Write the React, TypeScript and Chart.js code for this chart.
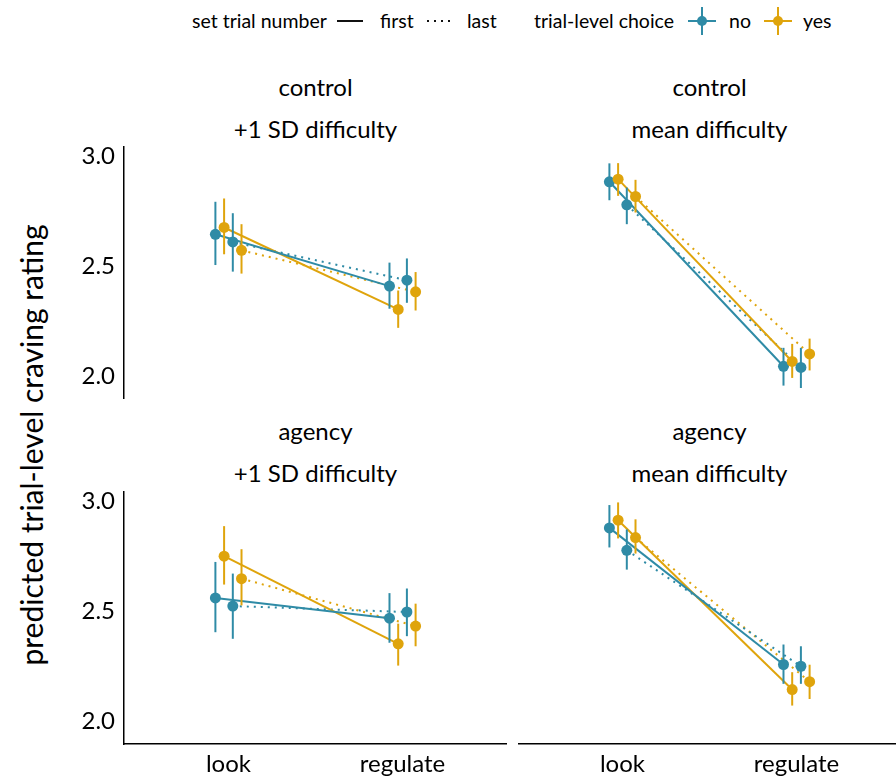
import React, { useEffect, useRef } from "react";
import { Chart, registerables } from "chart.js";

Chart.register(...registerables);

// ---------- data ----------
const xCategories = ["look", "regulate"];
const xPositions = [1, 2];
const yTicks = [2.0, 2.5, 3.0];
const seriesNames = ["no / first", "yes / first", "no / last", "yes / last"];
const seriesChoice = ["no", "yes", "no", "yes"];
const seriesTrial = ["first", "first", "last", "last"];
const dodgeOffsets = [-0.075, -0.025, 0.025, 0.075];

const rowLabels = ["control", "agency"];
const colLabels = ["+1 SD difficulty", "mean difficulty"];

// control, +1 SD difficulty  (rows: no-first, yes-first, no-last, yes-last; cols: look, regulate)
const controlSdEst = [[2.647, 2.411], [2.678, 2.305], [2.612, 2.438], [2.574, 2.385]];
const controlSdLo = [[2.507, 2.308], [2.556, 2.221], [2.477, 2.335], [2.468, 2.3]];
const controlSdHi = [[2.795, 2.518], [2.81, 2.391], [2.743, 2.537], [2.693, 2.475]];

// control, mean difficulty
const controlMeanEst = [[2.886, 2.046], [2.898, 2.068], [2.781, 2.041], [2.819, 2.102]];
const controlMeanLo = [[2.802, 1.958], [2.822, 1.993], [2.693, 1.947], [2.746, 2.027]];
const controlMeanHi = [[2.97, 2.13], [2.971, 2.148], [2.86, 2.13], [2.895, 2.172]];

// agency, +1 SD difficulty
const agencySdEst = [[2.562, 2.47], [2.752, 2.353], [2.525, 2.498], [2.65, 2.434]];
const agencySdLo = [[2.406, 2.358], [2.623, 2.254], [2.376, 2.388], [2.528, 2.342]];
const agencySdHi = [[2.726, 2.584], [2.889, 2.445], [2.673, 2.605], [2.784, 2.536]];

// agency, mean difficulty
const agencyMeanEst = [[2.881, 2.259], [2.916, 2.145], [2.779, 2.251], [2.837, 2.181]];
const agencyMeanLo = [[2.792, 2.171], [2.833, 2.072], [2.691, 2.171], [2.764, 2.102]];
const agencyMeanHi = [[2.985, 2.35], [2.997, 2.224], [2.874, 2.342], [2.92, 2.258]];

// ---------- styles ----------
const BLUE = "#2F8BA6";
const GOLD = "#DFA40C";
const colorFor = (choice: string) => (choice === "no" ? BLUE : GOLD);
const FONT = "Lato, 'Noto Sans', sans-serif";
const TEXT = "#000";

const PANEL_W = 383;
const PANEL_H = 253;
const Y_AXIS_W = 70;
const X_AXIS_H = 34;
const Y_MIN = 1.897;
const Y_MAX = 3.049;

const errorBarPlugin = {
  id: "errorBars",
  beforeDatasetDraw(chart: any, args: any) {
    const ds = chart.data.datasets[args.index];
    if (!ds.errLo) return;
    const xs = chart.scales.x;
    const ys = chart.scales.y;
    const ctx = chart.ctx;
    ctx.save();
    ctx.strokeStyle = ds.backgroundColor;
    ctx.lineWidth = 2;
    ds.data.forEach((p: any, j: number) => {
      const px = xs.getPixelForValue(p.x);
      ctx.beginPath();
      ctx.moveTo(px, ys.getPixelForValue(ds.errLo[j]));
      ctx.lineTo(px, ys.getPixelForValue(ds.errHi[j]));
      ctx.stroke();
    });
    ctx.restore();
  },
};

type PanelProps = {
  left: number;
  top: number;
  showY: boolean;
  showX: boolean;
  est: number[][];
  lo: number[][];
  hi: number[][];
};

function Panel({ left, top, showY, showX, est, lo, hi }: PanelProps) {
  const ref = useRef<HTMLCanvasElement | null>(null);
  const w = PANEL_W + (showY ? Y_AXIS_W : 0);
  const h = PANEL_H + (showX ? X_AXIS_H : 0);

  useEffect(() => {
    if (!ref.current) return;
    const datasets: any[] = [];
    seriesNames.forEach((name, i) => {
      const pts = xPositions.map((x, j) => ({ x: x + dodgeOffsets[i], y: est[i][j] }));
      datasets.push({
        type: "line",
        label: name + " line",
        data: pts,
        borderColor: colorFor(seriesChoice[i]),
        borderWidth: 2,
        borderDash: seriesTrial[i] === "last" ? [2, 5] : [],
        pointRadius: 0,
        fill: false,
        tension: 0,
        order: 20 + i,
      });
    });
    seriesNames.forEach((name, i) => {
      const pts = xPositions.map((x, j) => ({ x: x + dodgeOffsets[i], y: est[i][j] }));
      datasets.push({
        type: "scatter",
        label: name,
        data: pts,
        backgroundColor: colorFor(seriesChoice[i]),
        borderColor: colorFor(seriesChoice[i]),
        borderWidth: 0,
        pointRadius: 5.5,
        errLo: lo[i],
        errHi: hi[i],
        order: 10 - i,
      });
    });

    const zeroPad = (s: any) => {
      s.paddingTop = 0;
      s.paddingBottom = 0;
      s.paddingLeft = 0;
      s.paddingRight = 0;
    };

    const chart = new Chart(ref.current, {
      type: "scatter",
      data: { datasets },
      options: {
        responsive: false,
        animation: false,
        clip: false as any,
        layout: { padding: 0, autoPadding: false },
        plugins: { legend: { display: false }, tooltip: { enabled: false } },
        scales: {
          x: {
            type: "linear",
            min: 0.4,
            max: 2.6,
            display: showX,
            afterBuildTicks: (s: any) => {
              s.ticks = xPositions.map((v) => ({ value: v }));
            },
            afterFit: (s: any) => {
              s.height = showX ? X_AXIS_H : 0;
              zeroPad(s);
            },
            ticks: {
              callback: (v: any) => xCategories[xPositions.indexOf(Number(v))],
              font: { family: FONT, size: 24 },
              color: TEXT,
              padding: 6,
              maxRotation: 0,
              autoSkip: false,
            },
            grid: { display: false, drawTicks: false },
            border: { display: true, color: "#000", width: 1.5 },
          },
          y: {
            type: "linear",
            min: Y_MIN,
            max: Y_MAX,
            display: showY,
            afterBuildTicks: (s: any) => {
              s.ticks = yTicks.map((v) => ({ value: v }));
            },
            afterFit: (s: any) => {
              s.width = showY ? Y_AXIS_W : 0;
              zeroPad(s);
            },
            ticks: {
              callback: (v: any) => Number(v).toFixed(1),
              font: { family: FONT, size: 24 },
              color: TEXT,
              padding: 9,
              autoSkip: false,
            },
            grid: { display: false, drawTicks: false },
            border: { display: true, color: "#000", width: 1.5 },
          },
        },
      } as any,
      plugins: [errorBarPlugin],
    });
    return () => chart.destroy();
  }, []);

  return (
    <canvas
      ref={ref}
      width={w}
      height={h}
      style={{ position: "absolute", left: left - (showY ? Y_AXIS_W : 0), top, width: w, height: h }}
    />
  );
}

const txt = (extra: any): any => ({
  position: "absolute",
  fontFamily: FONT,
  color: TEXT,
  whiteSpace: "nowrap",
  lineHeight: 1,
  ...extra,
});

function Strip({ cx, top, line1, line2 }: { cx: number; top: number; line1: string; line2: string }) {
  return (
    <>
      <div style={txt({ left: cx, top: top, fontSize: 24, transform: "translate(-50%, -50%)" })}>{line1}</div>
      <div style={txt({ left: cx, top: top + 42, fontSize: 24, transform: "translate(-50%, -50%)" })}>{line2}</div>
    </>
  );
}

function PointKey({ cx, color }: { cx: number; color: string }) {
  return (
    <svg style={{ position: "absolute", left: cx - 15, top: 6, overflow: "visible" }} width={30} height={30}>
      <line x1={1} y1={15} x2={29} y2={15} stroke={color} strokeWidth={2} />
      <line x1={15} y1={1} x2={15} y2={29} stroke={color} strokeWidth={2} />
      <circle cx={15} cy={15} r={5} fill={color} />
    </svg>
  );
}

export default function App() {
  const leftX = 124;
  const rightX = 518;
  const topY = 146;
  const botY = 491;
  const legendY = 21;
  const LF = 19.5;
  return (
    <div
      style={{
        position: "absolute",
        left: 0,
        top: 0,
        width: 896,
        height: 778,
        overflow: "hidden",
        background: "#fff",
      }}
    >
      {/* legend */}
      <div style={txt({ left: 192, top: legendY, fontSize: LF, transform: "translateY(-50%)" })}>set trial number</div>
      <svg style={{ position: "absolute", left: 337, top: legendY - 5 }} width={26} height={10}>
        <line x1={0} y1={5} x2={26} y2={5} stroke="#111" strokeWidth={2} />
      </svg>
      <div style={txt({ left: 380, top: legendY, fontSize: LF, transform: "translateY(-50%)" })}>first</div>
      <svg style={{ position: "absolute", left: 427, top: legendY - 5 }} width={26} height={10}>
        <line x1={0} y1={5} x2={26} y2={5} stroke="#111" strokeWidth={2} strokeDasharray="2 5" />
      </svg>
      <div style={txt({ left: 467, top: legendY, fontSize: LF, transform: "translateY(-50%)" })}>last</div>
      <div style={txt({ left: 534, top: legendY, fontSize: LF, transform: "translateY(-50%)" })}>trial-level choice</div>
      <PointKey cx={702} color={BLUE} />
      <div style={txt({ left: 729, top: legendY, fontSize: LF, transform: "translateY(-50%)" })}>no</div>
      <PointKey cx={778} color={GOLD} />
      <div style={txt({ left: 803, top: legendY, fontSize: LF, transform: "translateY(-50%)" })}>yes</div>

      {/* y axis title */}
      <div
        style={txt({
          left: 31,
          top: 445,
          fontSize: 30,
          transform: "translate(-50%, -50%) rotate(-90deg)",
        })}
      >
        predicted trial-level craving rating
      </div>

      {/* strips */}
      <Strip cx={leftX + PANEL_W / 2} top={87} line1={rowLabels[0]} line2={colLabels[0]} />
      <Strip cx={rightX + PANEL_W / 2} top={87} line1={rowLabels[0]} line2={colLabels[1]} />
      <Strip cx={leftX + PANEL_W / 2} top={431} line1={rowLabels[1]} line2={colLabels[0]} />
      <Strip cx={rightX + PANEL_W / 2} top={431} line1={rowLabels[1]} line2={colLabels[1]} />

      {/* panels */}
      <Panel left={leftX} top={topY} showY={true} showX={false} est={controlSdEst} lo={controlSdLo} hi={controlSdHi} />
      <Panel left={rightX} top={topY} showY={false} showX={false} est={controlMeanEst} lo={controlMeanLo} hi={controlMeanHi} />
      <Panel left={leftX} top={botY} showY={true} showX={true} est={agencySdEst} lo={agencySdLo} hi={agencySdHi} />
      <Panel left={rightX} top={botY} showY={false} showX={true} est={agencyMeanEst} lo={agencyMeanLo} hi={agencyMeanHi} />
    </div>
  );
}
